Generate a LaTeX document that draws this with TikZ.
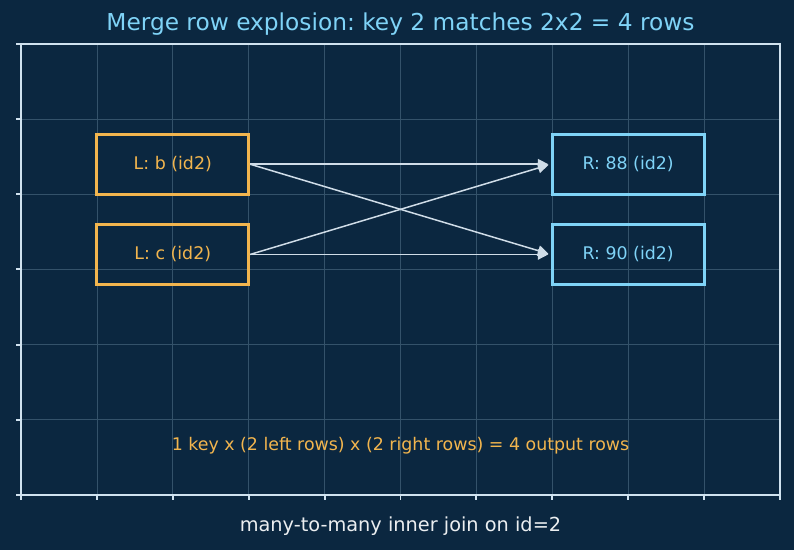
\documentclass[tikz,border=0pt]{standalone}
\usepackage{fontspec}
\setmainfont{DejaVu Sans}
\usepackage{xcolor}
\usetikzlibrary{positioning, calc, arrows.meta}

\definecolor{bgnavy}{HTML}{0B2740}
\definecolor{leftorange}{HTML}{F2B54E}
\definecolor{rightblue}{HTML}{7FD3F7}
\definecolor{gridline}{HTML}{34526A}
\definecolor{spine}{HTML}{D0E2EF}
\definecolor{linkgray}{HTML}{D0DDE8}

\tikzset{
    rowbox/.style={draw, line width=1.7pt, minimum width=3.036cm, minimum height=1.2026cm, inner sep=0pt, font=\fontsize{9.9}{12}\selectfont},
    link/.style={linkgray, line width=0.85pt, -{Triangle[length=6pt, width=6pt]}, shorten >=1.4pt}
}

\begin{document}
\frenchspacing
\begin{tikzpicture}[x=1.518cm, y=1.5033cm]
        \fill[bgnavy] (-0.2767,-0.7317) rectangle (10.1845,6.585);
        \useasboundingbox (-0.2767,-0.7317) rectangle (10.1845,6.585);

        % grid
        \foreach \i in {1,...,9}
            \draw[gridline, line width=0.45pt] (\i,0) -- (\i,6);
        \foreach \j in {1,...,5}
            \draw[gridline, line width=0.45pt] (0,\j) -- (10,\j);

        % axes
        \draw[spine, line width=1.1pt] (0,0) rectangle (10,6);
        \foreach \i in {0,...,10}
            \draw[spine, line width=1.1pt] (\i,0) -- (\i,-0.066);
        \foreach \j in {0,...,6}
            \draw[spine, line width=1.1pt] (0,\j) -- (-0.066,\j);

        \node[rowbox, leftorange] (lb) at (2,4.4) {L: b (id2)};
        \node[rowbox, leftorange] (lc) at (2,3.2) {L: c (id2)};
        \node[rowbox, rightblue] (r88) at (8,4.4) {R: 88 (id2)};
        \node[rowbox, rightblue] (r90) at (8,3.2) {R: 90 (id2)};

        \draw[link] (lb.east) -- (r88.west);
        \draw[link] (lb.east) -- (r90.west);
        \draw[link] (lc.east) -- (r88.west);
        \draw[link] (lc.east) -- (r90.west);

        \node[leftorange, font=\fontsize{9.9}{12}\selectfont] (summary) at (5,0.66) {1 key x (2 left rows) x (2 right rows) = 4 output rows};
        \node[rightblue, font=\fontsize{13.25}{16}\selectfont] (title) at (5,6.27) {Merge row explosion: key 2 matches 2x2 = 4 rows};
        \node[white!92!bgnavy, font=\fontsize{11}{13}\selectfont] (xlabel) at (5,-0.41) {many-to-many inner join on id=2};
\end{tikzpicture}
\end{document}
